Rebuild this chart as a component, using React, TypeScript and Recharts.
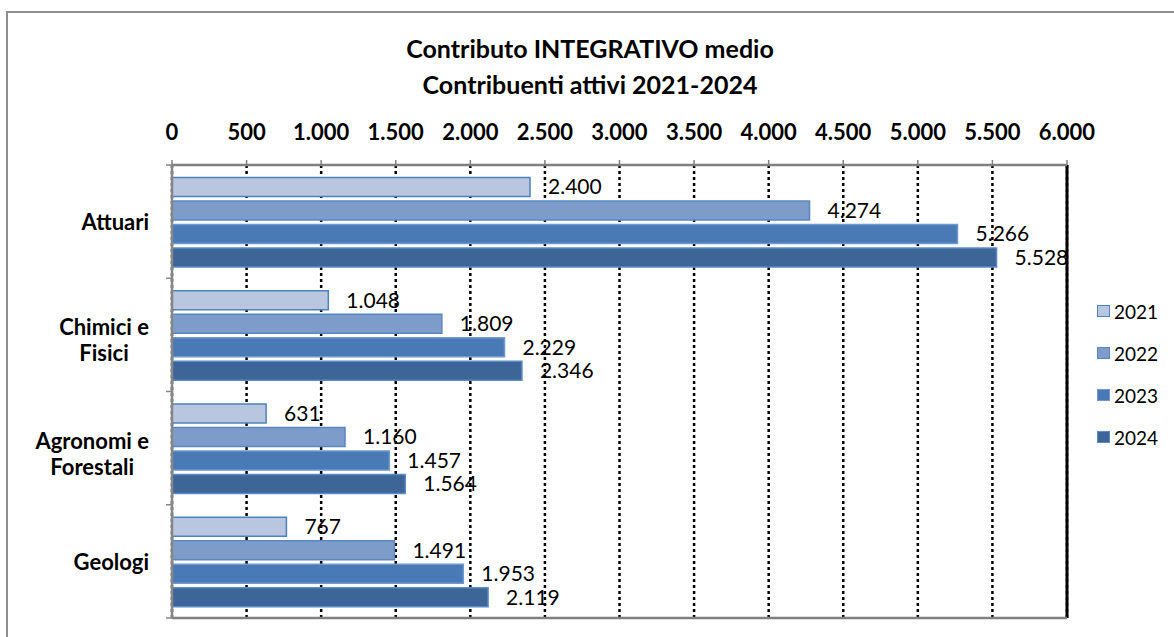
import React from 'react';
import { BarChart, Bar, XAxis, YAxis, CartesianGrid, LabelList, ReferenceLine, Legend } from 'recharts';

const categories = ['Attuari', 'Chimici e\nFisici', 'Agronomi e\nForestali', 'Geologi'];
const v2021 = [2400, 1048, 631, 767];
const v2022 = [4274, 1809, 1160, 1491];
const v2023 = [5266, 2229, 1457, 1953];
const v2024 = [5528, 2346, 1564, 2119];
const xTicks = [0, 500, 1000, 1500, 2000, 2500, 3000, 3500, 4000, 4500, 5000, 5500, 6000];
const seriesNames = ['2021', '2022', '2023', '2024'];
const titleLines = ['Contributo INTEGRATIVO medio', 'Contribuenti attivi 2021-2024'];

const FONT = 'Lato, "Open Sans", sans-serif';
const fills = ['#B8C6E0', '#7E9CCA', '#4A7AB5', '#3D6597'];
const strokes = ['#4F81BD', '#5A87C2', '#6E98CE', '#5C8AC6'];

const data = categories.map((name, i) => ({
  name,
  y2021: v2021[i],
  y2022: v2022[i],
  y2023: v2023[i],
  y2024: v2024[i],
}));

const fmt = (n: any) => String(n).replace(/\B(?=(\d{3})+(?!\d))/g, '.');

let ctx: CanvasRenderingContext2D | null = null;
const measure = (t: string, font: string) => {
  if (!ctx) ctx = document.createElement('canvas').getContext('2d');
  if (!ctx) return t.length * 10;
  ctx.font = font;
  return ctx.measureText(t).width;
};

const CAT_FS = 22;

const CatTick = (props: any) => {
  const { x, y, payload, index } = props;
  const lines: string[] = String(payload.value).split('\n');
  const fontSpec = `bold ${CAT_FS}px ${FONT}`;
  const maxW = Math.max(...lines.map((l) => measure(l, fontSpec)));
  const rightEdge = x - 15;
  const cx = rightEdge - maxW / 2;
  const off = payload.offset ?? 56.6;
  const lh = 26;
  const startY = lines.length > 1 ? y - 8 : y;
  return (
    <g>
      <line x1={x + 2} x2={x + 8} y1={y - off} y2={y - off} stroke="#868686" strokeWidth={1.5} />
      {index === categories.length - 1 && (
        <line x1={x + 2} x2={x + 8} y1={y + off} y2={y + off} stroke="#868686" strokeWidth={1.5} />
      )}
      {lines.map((l, k) => (
        <text
          key={k}
          x={cx}
          y={startY + k * lh}
          textAnchor="middle"
          dominantBaseline="central"
          fontFamily={FONT}
          fontWeight="bold"
          fontSize={CAT_FS}
          fill="#000"
        >
          {l}
        </text>
      ))}
    </g>
  );
};

const LegendContent = () => (
  <div style={{ fontFamily: FONT, fontSize: 19, color: '#000' }}>
    {seriesNames.map((s, i) => (
      <div key={s} style={{ display: 'flex', alignItems: 'center', height: 42 }}>
        <span
          style={{
            display: 'inline-block',
            width: 11,
            height: 10,
            background: fills[i],
            border: `1.5px solid ${strokes[i]}`,
            marginRight: 4,
          }}
        />
        <span>{s}</span>
      </div>
    ))}
  </div>
);

export default function App() {
  return (
    <div style={{ position: 'absolute', left: 0, top: 0, width: 1174, height: 637, overflow: 'hidden', background: '#fff' }}>
      <div
        style={{
          position: 'absolute',
          left: 6,
          top: 11,
          width: 1300,
          height: 800,
          borderLeft: '2px solid #8e8e8e',
          borderTop: '2px solid #8e8e8e',
        }}
      />
      <div
        style={{
          position: 'absolute',
          left: 0,
          top: 30,
          width: 1180,
          textAlign: 'center',
          fontFamily: FONT,
          fontWeight: 'bold',
          fontSize: 25,
          lineHeight: '36px',
          color: '#000',
        }}
      >
        {titleLines.map((t) => (
          <div key={t}>{t}</div>
        ))}
      </div>
      <div style={{ position: 'absolute', left: 0, top: 0 }}>
        <BarChart
          width={1174}
          height={637}
          data={data}
          layout="vertical"
          margin={{ top: 140, right: 107, bottom: 18, left: 0 }}
          barCategoryGap="11%"
          barGap={4.5}
        >
          <CartesianGrid
            xAxisId="top"
            horizontal={false}
            vertical={true}
            stroke="#000"
            strokeWidth={2.5}
            strokeDasharray="3 3"
          />
          <XAxis
            xAxisId="top"
            type="number"
            orientation="top"
            domain={[0, 6000]}
            ticks={xTicks}
            tickFormatter={fmt}
            height={25}
            tickSize={5}
            tickMargin={20}
            interval={0}
            axisLine={{ stroke: '#808080', strokeWidth: 2.5 }}
            tickLine={{ stroke: '#808080', strokeWidth: 1.5 }}
            tick={{ fill: '#000', fontFamily: FONT, fontWeight: 'bold', fontSize: 22 }}
          />
          <XAxis
            xAxisId="bottom"
            type="number"
            orientation="bottom"
            domain={[0, 6000]}
            height={1}
            tick={false}
            tickLine={false}
            axisLine={{ stroke: '#808080', strokeWidth: 2.5 }}
          />
          <YAxis
            type="category"
            dataKey="name"
            width={172}
            axisLine={{ stroke: '#868686', strokeWidth: 2.5 }}
            tickLine={false}
            tick={<CatTick />}
            interval={0}
          />
          <ReferenceLine xAxisId="top" x={6000} stroke="#000" strokeWidth={3} />
          <Legend
            layout="horizontal"
            verticalAlign="middle"
            align="center"
            content={<LegendContent />}
            wrapperStyle={{ position: 'absolute', left: 1097, top: 290, width: 75 }}
          />
          {['y2021', 'y2022', 'y2023', 'y2024'].map((k, i) => (
            <Bar
              key={k}
              xAxisId="top"
              dataKey={k}
              name={seriesNames[i]}
              fill={fills[i]}
              stroke={strokes[i]}
              strokeWidth={1.5}
              isAnimationActive={false}
            >
              <LabelList
                dataKey={k}
                position="right"
                offset={18}
                formatter={fmt}
                fill="#000"
                fontFamily={FONT}
                fontSize={21}
              />
            </Bar>
          ))}
        </BarChart>
      </div>
    </div>
  );
}
